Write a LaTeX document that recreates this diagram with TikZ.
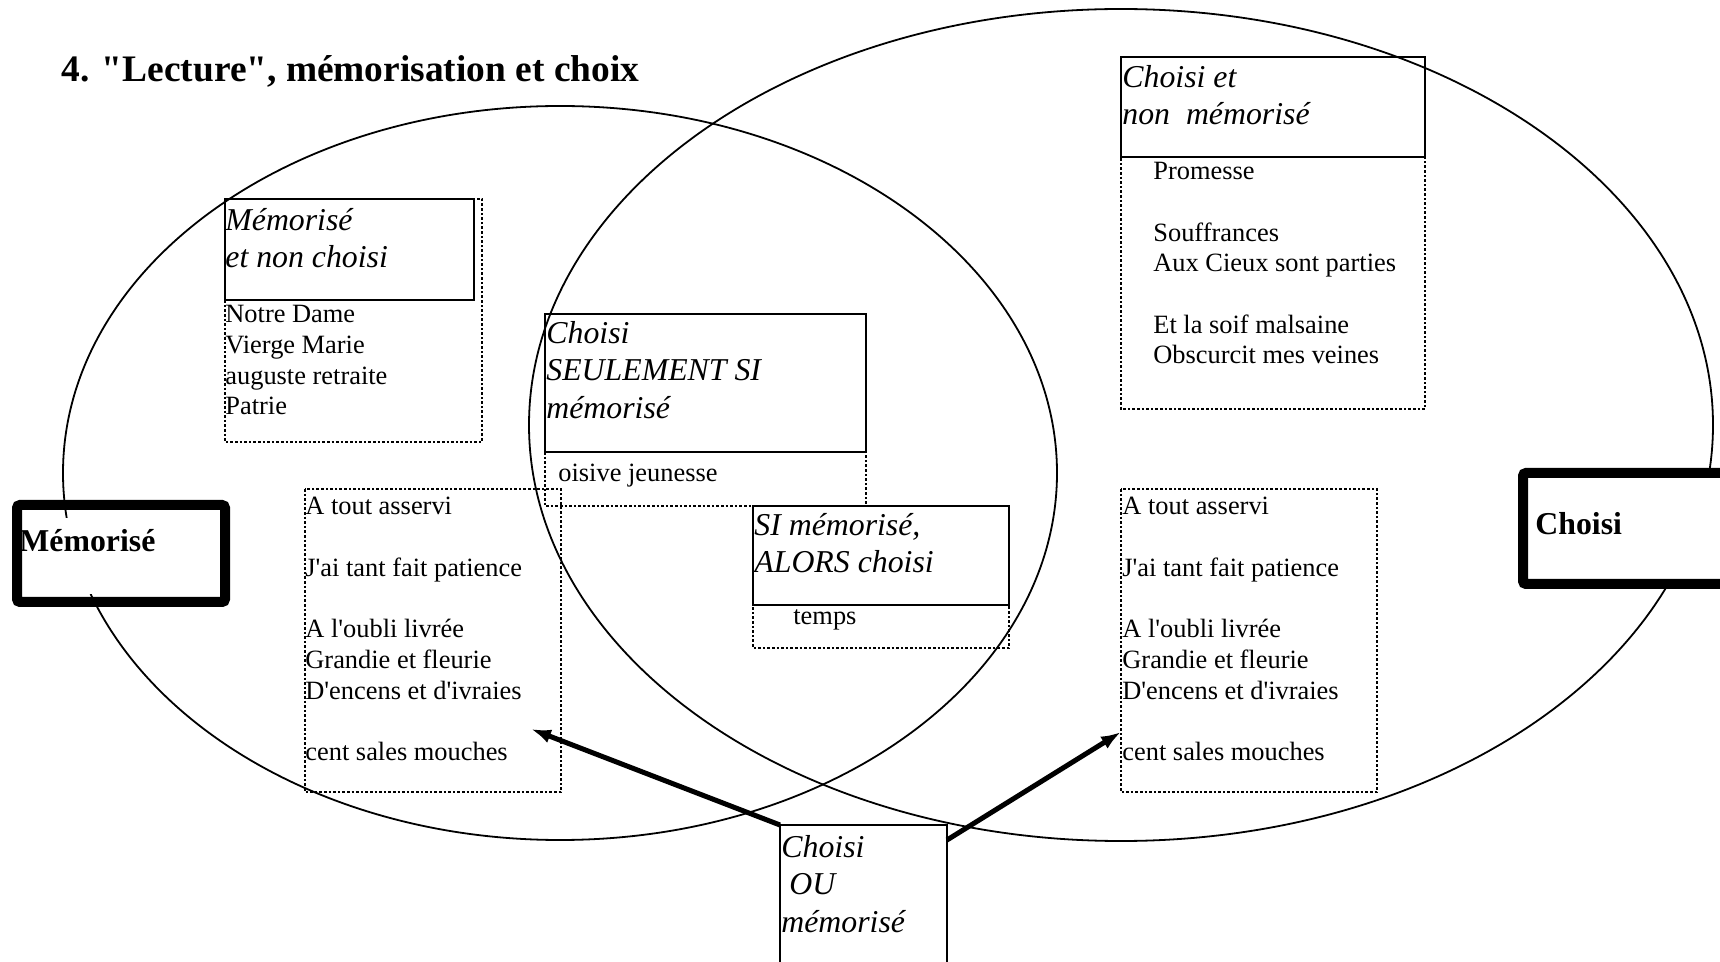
\documentclass[tikz,border=0pt]{standalone}
\usepackage{fontspec}
\setmainfont{Liberation Serif}[Ligatures=TeXOff]
\usetikzlibrary{positioning}
\usetikzlibrary{arrows.meta}

\tikzset{
 verse/.style={anchor=north west, inner sep=0pt, align=left, font=\fontsize{13.2}{15.35}\selectfont},
 heading/.style={anchor=north west, inner sep=0pt, align=left, font=\fontsize{15.9}{18.65}\selectfont\itshape},
 boldname/.style={anchor=base west, inner sep=0pt, font=\fontsize{15.9}{18.65}\selectfont\bfseries},
 ring/.style={line width=0.9pt},
 plainbox/.style={draw, line width=1.3pt},
 dotbox/.style={draw, line width=1.2pt, dash pattern=on 1.3pt off 1pt},
 bigbox/.style={draw, line width=5pt, rounded corners=1.5pt},
 push/.style={-{Latex[length=10pt,width=7pt]}, line width=2.5pt},
}

\begin{document}
\begin{tikzpicture}[x=0.5pt,y=-0.5pt]
 \useasboundingbox (0,0) rectangle (1720,962);
 \node[anchor=base west, inner sep=0pt, font=\fontsize{18.7}{22}\selectfont\bfseries] (title) at (61,82) {4. "Lecture", mémorisation et choix};

 \draw[ring] (560,473) ellipse [x radius=248.5pt, y radius=183.5pt];
 \draw[ring] (1121,425) ellipse [x radius=296pt, y radius=208pt];

 \draw[dotbox] (225,199) rectangle (482,442);
 \draw[plainbox] (225,199) rectangle (474,300);
 \draw[dotbox] (545,314) rectangle (866,506);
 \draw[plainbox] (545,314) rectangle (866,452);
 \draw[dotbox] (753,506) rectangle (1009,648);
 \draw[plainbox] (753,506) rectangle (1009,605);
 \draw[dotbox] (1121,57) rectangle (1425,409);
 \draw[plainbox] (1121,57) rectangle (1425,157);
 \draw[dotbox] (305,489) rectangle (561,792);
 \draw[dotbox] (1121,489) rectangle (1377,792);

 \fill[white] (22,518) rectangle (220,594);
 \draw[bigbox] (17,505) rectangle (225,602);
 \draw[bigbox, fill=white] (1523,473) rectangle (1745,584);

 \node[plainbox, line width=1pt, anchor=north west, inner sep=0pt, outer sep=0pt,
  minimum width=83.5pt, minimum height=100pt] (ou) at (780,825) {};

 \node[heading] (memo) at (225,208) {Mémorisé\\et non choisi};
 \node[verse] (memoverse) at (225,305) {Notre Dame\\Vierge Marie\\auguste retraite\\Patrie};
 \node[heading] (seul) at (546,321) {Choisi\\SEULEMENT SI\\mémorisé};
 \node[verse] (oisive) at (558,464) {oisive jeunesse};
 \node[heading] (simem) at (754,513) {SI mémorisé,\\ALORS choisi};
 \node[verse] (temps) at (793,609) {temps};
 \node[heading] (cnm) at (1122,65) {Choisi et\\non\ \ mémorisé};
 \node[verse] (cnmverse) at (1153,162) {Promesse\\[15.35pt]Souffrances\\Aux Cieux sont parties\\[15.35pt]Et la soif malsaine\\Obscurcit mes veines};
 \node[verse] (poeml) at (305,497) {A tout asservi\\[15.35pt]J'ai tant fait patience\\[15.35pt]A l'oubli livrée\\Grandie et fleurie\\D'encens et d'ivraies\\[15.35pt]cent sales mouches};
 \node[verse] (poemr) at (1122,497) {A tout asservi\\[15.35pt]J'ai tant fait patience\\[15.35pt]A l'oubli livrée\\Grandie et fleurie\\D'encens et d'ivraies\\[15.35pt]cent sales mouches};
 \node[boldname] (memorise) at (19,552) {Mémorisé};
 \node[boldname] (choisi) at (1535,535) {Choisi};
 \node[heading] (outext) at (781,835) {Choisi\\\hspace{4pt}OU\\mémorisé};

 \coordinate (tipl) at (531,729);
 \coordinate (tipr) at (1121,732);
 \draw[push] (ou.north west) -- (tipl);
 \draw[push] ([yshift=-7.5pt]ou.north east) -- (tipr);
\end{tikzpicture}
\end{document}
